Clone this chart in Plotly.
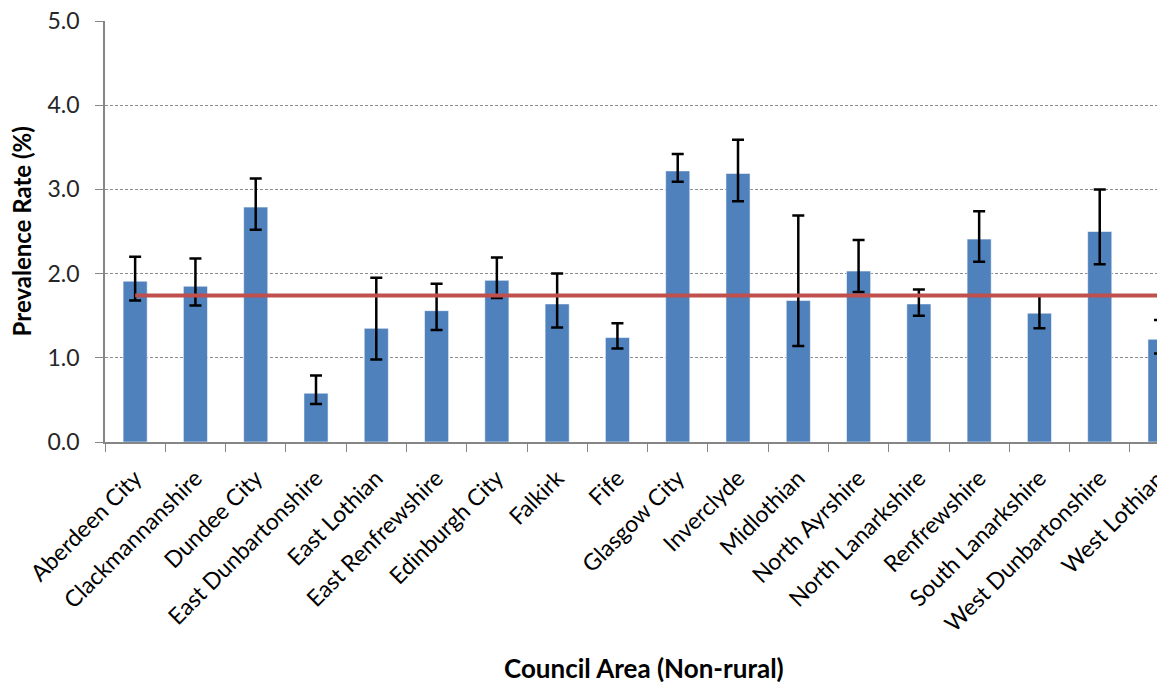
import plotly.graph_objects as go

# Council areas (non-rural) and prevalence estimates with 95% confidence limits
councils = [
    "Aberdeen City", "Clackmannanshire", "Dundee City", "East Dunbartonshire",
    "East Lothian", "East Renfrewshire", "Edinburgh City", "Falkirk", "Fife",
    "Glasgow City", "Inverclyde", "Midlothian", "North Ayrshire",
    "North Lanarkshire", "Renfrewshire", "South Lanarkshire",
    "West Dunbartonshire", "West Lothian",
]
prevalence = [1.91, 1.85, 2.79, 0.58, 1.35, 1.56, 1.92, 1.64, 1.24,
              3.22, 3.19, 1.68, 2.03, 1.64, 2.41, 1.53, 2.50, 1.22]
upper_ci = [2.20, 2.18, 3.13, 0.79, 1.95, 1.88, 2.19, 2.00, 1.41,
            3.42, 3.59, 2.69, 2.40, 1.81, 2.74, 1.74, 3.00, 1.45]
lower_ci = [1.68, 1.62, 2.52, 0.45, 0.98, 1.33, 1.71, 1.36, 1.11,
            3.09, 2.86, 1.14, 1.78, 1.50, 2.14, 1.35, 2.11, 1.05]
national_rate = 1.74
y_ticks = [0.0, 1.0, 2.0, 3.0, 4.0, 5.0]
y_tick_text = ["0.0", "1.0", "2.0", "3.0", "4.0", "5.0"]

err_plus = [u - p for u, p in zip(upper_ci, prevalence)]
err_minus = [p - l for p, l in zip(prevalence, lower_ci)]

FONT = "Lato, 'Open Sans', sans-serif"
X_RANGE = [-0.5, 16.95]

fig = go.Figure()
fig.add_trace(go.Bar(
    x=councils,
    y=prevalence,
    marker=dict(color="#4F81BD", line=dict(color="rgba(255,255,255,0.55)", width=1)),
    error_y=dict(type="data", symmetric=False, array=err_plus, arrayminus=err_minus,
                 color="#000000", thickness=2.5, width=6),
    showlegend=False,
))
fig.add_trace(go.Scatter(
    x=councils,
    y=[national_rate] * len(councils),
    mode="lines",
    line=dict(color="#C0504D", width=4),
    showlegend=False,
))

fig.update_layout(
    width=1157,
    height=685,
    margin=dict(l=105, r=0, t=21, b=243),
    paper_bgcolor="white",
    plot_bgcolor="white",
    bargap=0.6,
    font=dict(family=FONT, color="#000000"),
)

fig.update_xaxes(
    type="category",
    categoryorder="array",
    categoryarray=councils,
    range=X_RANGE,
    tickson="boundaries",
    ticks="outside",
    ticklen=8,
    tickcolor="#868686",
    tickwidth=1,
    showline=True,
    linecolor="#868686",
    linewidth=1.5,
    showgrid=False,
    tickangle=-45,
    ticklabelstandoff=12,
    tickfont=dict(size=23, color="#000000", family=FONT),
)
fig.update_yaxes(
    range=[0, 5],
    tickvals=y_ticks,
    ticktext=y_tick_text,
    ticks="outside",
    ticklen=8,
    tickcolor="#868686",
    showline=True,
    linecolor="#868686",
    linewidth=1.5,
    showgrid=True,
    gridcolor="#8c8c8c",
    griddash="3px,2px",
    gridwidth=1,
    zeroline=False,
    ticklabelstandoff=11,
    tickfont=dict(size=23, color="#262626", family=FONT),
)

# last category label sits beyond the visible plot edge, placed in paper units
last_idx = len(councils) - 1
last_x = (last_idx - X_RANGE[0]) / (X_RANGE[1] - X_RANGE[0])
fig.add_annotation(
    x=last_x, xref="paper", y=-0.03, yref="paper",
    xshift=12, yshift=-8,
    text=councils[-1], textangle=-45, showarrow=False,
    xanchor="right", yanchor="top",
    font=dict(size=23, color="#000000", family=FONT),
)

fig.add_annotation(
    x=0.512, xref="paper", y=-0.537, yref="paper",
    text="<b>Council Area (Non-rural)</b>", showarrow=False,
    xanchor="center", yanchor="middle",
    font=dict(size=26, color="#000000", family=FONT),
)
fig.add_annotation(
    x=-0.079, xref="paper", y=0.5, yref="paper",
    text="<b>Prevalence Rate (%)</b>", textangle=-90, showarrow=False,
    xanchor="center", yanchor="middle",
    font=dict(size=24, color="#000000", family=FONT),
)

fig.write_html("out.html")
